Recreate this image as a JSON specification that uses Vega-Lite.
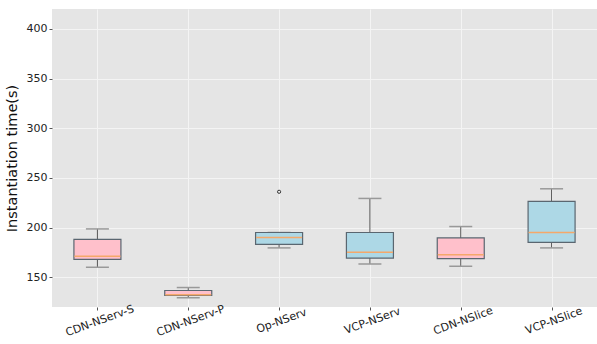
{
  "$schema": "https://vega.github.io/schema/vega-lite/v6.json",
  "width": 545,
  "height": 298,
  "autosize": "none",
  "padding": {"left": 52, "top": 9, "right": 0, "bottom": 37},
  "background": "white",
  "config": {
    "font": "DejaVu Sans",
    "view": {"fill": "#E5E5E5", "stroke": null},
    "axis": {
      "gridColor": "#F4F4F4",
      "gridWidth": 1,
      "domain": false,
      "tickColor": "#555555",
      "tickSize": 3,
      "labelColor": "#222222",
      "labelFontSize": 11,
      "titleColor": "#111111"
    }
  },
  "datasets": {
    "boxes": [
      {"service": "CDN-NServ-S", "kind": "CDN", "lower": 160, "q1": 168, "median": 171, "q3": 188, "upper": 198.6},
      {"service": "CDN-NServ-P", "kind": "CDN", "lower": 129.3, "q1": 131.7, "median": 132.4, "q3": 136.6, "upper": 139.6},
      {"service": "Op-NServ", "kind": "VCP", "lower": 179.5, "q1": 183, "median": 190, "q3": 195, "upper": 195},
      {"service": "VCP-NServ", "kind": "VCP", "lower": 163.3, "q1": 169.3, "median": 175, "q3": 195, "upper": 229.3},
      {"service": "CDN-NSlice", "kind": "CDN", "lower": 161, "q1": 168.7, "median": 172.7, "q3": 189.5, "upper": 201},
      {"service": "VCP-NSlice", "kind": "VCP", "lower": 179.5, "q1": 185, "median": 195, "q3": 226.3, "upper": 239}
    ],
    "outliers": [
      {"service": "Op-NServ", "value": 236}
    ]
  },
  "encoding": {
    "x": {
      "field": "service",
      "type": "nominal",
      "sort": null,
      "scale": {"type": "point", "padding": 0.5},
      "axis": {"title": null, "labelAngle": -20, "labelAlign": "center", "labelBaseline": "top", "labelPadding": 5, "grid": true}
    }
  },
  "layer": [
    {
      "data": {"name": "boxes"},
      "mark": {"type": "rule", "color": "#555555", "strokeWidth": 1},
      "encoding": {
        "y": {
          "field": "lower",
          "type": "quantitative",
          "scale": {"domain": [120, 420], "nice": false, "zero": false},
          "axis": {"values": [150, 200, 250, 300, 350, 400], "title": "Instantiation time(s)", "titleFontSize": 14.5, "titleFontWeight": "normal", "titlePadding": 7}
        },
        "y2": {"field": "upper"}
      }
    },
    {
      "data": {"name": "boxes"},
      "mark": {"type": "tick", "orient": "horizontal", "color": "#999999", "thickness": 1.5, "size": 23, "opacity": 1},
      "encoding": {"y": {"field": "lower", "type": "quantitative"}}
    },
    {
      "data": {"name": "boxes"},
      "mark": {"type": "tick", "orient": "horizontal", "color": "#999999", "thickness": 1.5, "size": 23, "opacity": 1},
      "encoding": {"y": {"field": "upper", "type": "quantitative"}}
    },
    {
      "data": {"name": "boxes"},
      "mark": {"type": "bar", "size": 47, "stroke": "#5a6670", "strokeWidth": 1.2},
      "encoding": {
        "y": {"field": "q1", "type": "quantitative"},
        "y2": {"field": "q3"},
        "color": {
          "field": "kind",
          "type": "nominal",
          "scale": {"domain": ["CDN", "VCP"], "range": ["#FFC0CB", "#ADD8E6"]},
          "legend": null
        }
      }
    },
    {
      "data": {"name": "boxes"},
      "mark": {"type": "tick", "orient": "horizontal", "color": "#F5A86A", "thickness": 1.5, "size": 46, "opacity": 1},
      "encoding": {"y": {"field": "median", "type": "quantitative"}}
    },
    {
      "data": {"name": "outliers"},
      "mark": {"type": "point", "shape": "circle", "filled": false, "stroke": "#333333", "strokeWidth": 1, "size": 10, "opacity": 1},
      "encoding": {"y": {"field": "value", "type": "quantitative"}}
    }
  ]
}
